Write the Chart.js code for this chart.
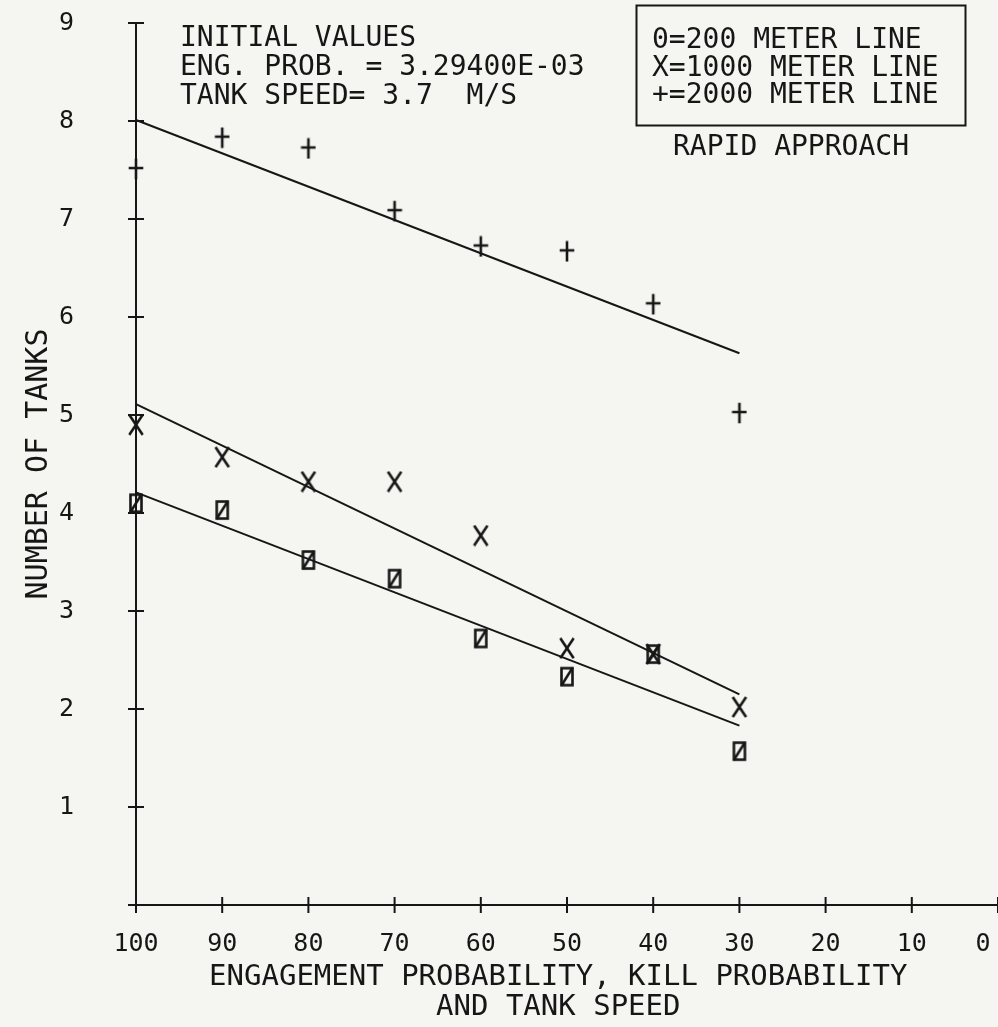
<!DOCTYPE html>
<html>
<head>
<meta charset="utf-8">
<title>Number of tanks - rapid approach</title>
<script src="https://cdn.jsdelivr.net/npm/chart.js@4.4.1/dist/chart.umd.min.js"></script>
<style>
  html, body { margin: 0; padding: 0; background: #f5f5f2; overflow: hidden; }
  #wrap { width: 998px; height: 1027px; }
</style>
</head>
<body>
<div id="wrap"><canvas id="tanksChart" width="998" height="1027"></canvas></div>
<script>
// Values
const engProb = [100, 90, 80, 70, 60, 50, 40, 30];
const tanks200m = [4.10, 4.03, 3.52, 3.33, 2.72, 2.33, 2.56, 1.57];
const tanks1000m = [4.90, 4.57, 4.32, 4.32, 3.77, 2.62, 2.56, 2.02];
const tanks2000m = [7.51, 7.83, 7.72, 7.08, 6.72, 6.67, 6.13, 5.02];

// fitted lines, start and end only
const fitEnds = [100, 30];
const fit200m = [4.21, 1.83];
const fit1000m = [5.11, 2.15];
const fit2000m = [8.01, 5.63];

// trailing space nudges the centred title a little left, as on the plot
const xTitleLines = ['ENGAGEMENT PROBABILITY, KILL PROBABILITY ', 'AND TANK SPEED '];
const yTitle = 'NUMBER OF TANKS';
const infoLines = ['INITIAL VALUES', 'ENG. PROB. = 3.29400E-03', 'TANK SPEED= 3.7  M/S'];
const legendLines = ['0=200 METER LINE', 'X=1000 METER LINE', '+=2000 METER LINE'];
const caseLabel = 'RAPID APPROACH';

const INK = '#161616';
const PLOT_FONT = '"DejaVu Sans Mono", "Liberation Mono", monospace';

// plotter style glyph markers
function makeMarker(w, h, draw) {
    const c = document.createElement('canvas');
    c.width = w;
    c.height = h;
    const g = c.getContext('2d');
    g.strokeStyle = INK;
    g.lineWidth = 2.6;
    g.lineCap = 'square';
    draw(g, w, h);
    return c;
}

const markZero = makeMarker(16, 22, (g, w, h) => {
    g.strokeRect(2.5, 2.5, w - 5, h - 5);
    g.beginPath();
    g.moveTo(3, h - 3);
    g.lineTo(w - 3, 3);
    g.stroke();
});

const markX = makeMarker(18, 22, (g, w, h) => {
    g.beginPath();
    g.moveTo(3, 2); g.lineTo(w - 3, h - 2);
    g.moveTo(w - 3, 2); g.lineTo(3, h - 2);
    g.stroke();
});

const markPlus = makeMarker(16, 22, (g, w, h) => {
    g.beginPath();
    g.moveTo(w / 2, 2); g.lineTo(w / 2, h - 2);
    g.moveTo(2, h / 2 - 1); g.lineTo(w - 2, h / 2 - 1);
    g.stroke();
});

function points(xs, ys) {
    return xs.map((x, i) => ({ x: x, y: ys[i] }));
}

function markerSet(label, ys, style) {
    return {
        label: label,
        data: points(engProb, ys),
        pointStyle: style,
        pointRadius: 10,
        showLine: false,
        clip: false
    };
}

function fitSet(label, ys) {
    return {
        label: label,
        data: points(fitEnds, ys),
        showLine: true,
        borderColor: INK,
        borderWidth: 2,
        pointRadius: 0,
        clip: false
    };
}

// crossing tick marks + text blocks
const plotterDecor = {
    id: 'plotterDecor',
    afterDraw(chart) {
        const { ctx, chartArea } = chart;
        const x = chart.scales.x;
        const y = chart.scales.y;
        ctx.save();
        ctx.strokeStyle = INK;
        ctx.lineWidth = 2;
        ctx.beginPath();
        x.ticks.forEach(t => {
            const px = x.getPixelForValue(t.value);
            ctx.moveTo(px, chartArea.bottom - 8);
            ctx.lineTo(px, chartArea.bottom + 8);
        });
        y.ticks.forEach(t => {
            const py = y.getPixelForValue(t.value);
            ctx.moveTo(chartArea.left - 8, py);
            ctx.lineTo(chartArea.left + 8, py);
        });
        ctx.stroke();

        ctx.fillStyle = INK;
        ctx.font = '28px ' + PLOT_FONT;
        ctx.textBaseline = 'alphabetic';
        ctx.textAlign = 'left';
        infoLines.forEach((s, i) => ctx.fillText(s, 180, 46 + i * 29));

        ctx.lineWidth = 2;
        ctx.strokeRect(636.5, 5.5, 329, 120);
        legendLines.forEach((s, i) => ctx.fillText(s, 652, 48 + i * 27.5));

        ctx.textAlign = 'center';
        ctx.fillText(caseLabel, 791, 155);
        ctx.restore();
    }
};

new Chart(document.getElementById('tanksChart'), {
    type: 'scatter',
    data: {
        datasets: [
            fitSet('200 m fit', fit200m),
            fitSet('1000 m fit', fit1000m),
            fitSet('2000 m fit', fit2000m),
            markerSet('200 METER LINE', tanks200m, markZero),
            markerSet('1000 METER LINE', tanks1000m, markX),
            markerSet('2000 METER LINE', tanks2000m, markPlus)
        ]
    },
    options: {
        responsive: false,
        animation: false,
        devicePixelRatio: 1,
        layout: { autoPadding: false, padding: { top: 23, right: 0, bottom: 0, left: 0 } },
        plugins: {
            legend: { display: false },
            tooltip: { enabled: false }
        },
        scales: {
            x: {
                type: 'linear',
                position: 'bottom',
                reverse: true,
                min: 0,
                max: 100,
                border: { display: true, color: INK, width: 2 },
                grid: { display: false, drawTicks: false, tickLength: 0 },
                ticks: {
                    stepSize: 10,
                    autoSkip: false,
                    maxRotation: 0,
                    color: INK,
                    padding: 24,
                    font: { family: PLOT_FONT, size: 25 },
                    // last label sits at the page edge, pad it so it stays visible
                    callback: v => (v === 0 ? '0  ' : String(v))
                },
                title: {
                    display: true,
                    text: xTitleLines,
                    color: INK,
                    font: { family: PLOT_FONT, size: 29, lineHeight: 1.05 },
                    padding: { top: 0, bottom: 4 }
                },
                afterFit(s) {
                    s.height = 122;
                    s.paddingLeft = 0;
                    s.paddingRight = 0;
                }
            },
            y: {
                type: 'linear',
                min: 0,
                max: 9,
                border: { display: true, color: INK, width: 2 },
                grid: { display: false, drawTicks: false, tickLength: 0 },
                ticks: {
                    stepSize: 1,
                    color: INK,
                    padding: 62,
                    font: { family: PLOT_FONT, size: 25 },
                    callback: v => (v === 0 ? '' : String(v))
                },
                title: {
                    display: true,
                    text: yTitle,
                    color: INK,
                    font: { family: PLOT_FONT, size: 30 },
                    padding: { top: 21, bottom: 0 }
                },
                afterFit(s) {
                    s.width = 136;
                    s.paddingTop = 0;
                    s.paddingBottom = 0;
                }
            }
        }
    },
    plugins: [plotterDecor]
});
</script>
</body>
</html>
